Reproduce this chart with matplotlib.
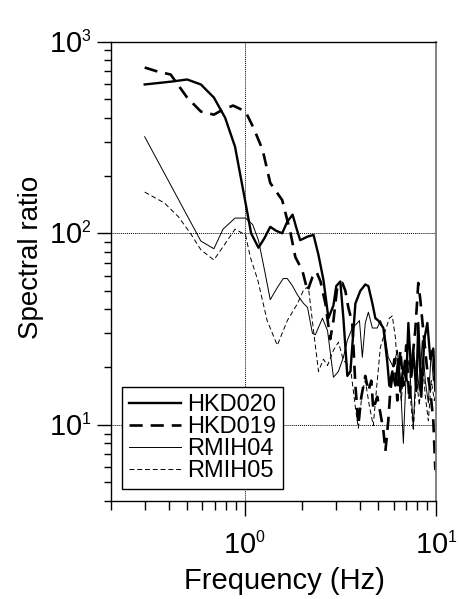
import matplotlib
matplotlib.use("Agg")
import matplotlib.pyplot as plt
from matplotlib.ticker import LogLocator, FixedLocator, FixedFormatter, NullFormatter

try:
    import matplotlib._mathtext as _mt
    _mt.SHRINK_FACTOR = 0.55
except Exception:
    pass

plt.rcParams['font.family'] = ['Liberation Sans', 'DejaVu Sans']
plt.rcParams['mathtext.fontset'] = 'custom'
plt.rcParams['mathtext.rm'] = 'Liberation Sans'
plt.rcParams['mathtext.it'] = 'Liberation Sans'

# ---------------- data ----------------
hkd020_f = [0.30, 0.42, 0.50, 0.59, 0.69, 0.79, 0.89, 1.01, 1.08, 1.18, 1.27, 1.36, 1.46,
            1.57, 1.67, 1.78, 1.86, 1.95, 2.13, 2.29, 2.43, 2.58, 2.74, 2.91, 3.01, 3.16,
            3.28, 3.44, 3.57, 3.79, 4.02, 4.27, 4.43, 4.65, 4.82, 4.99, 5.31, 5.57, 5.70,
            5.91, 6.13, 6.35, 6.51, 6.75, 6.99, 7.17, 7.43, 7.61, 7.89, 8.08, 8.38, 8.69,
            9.01, 9.34, 9.68, 9.92, 10.0]
hkd020_v = [598, 620, 635, 598, 511, 401, 283, 144, 100, 84, 94.5, 108, 103,
            100, 115, 125, 107, 92, 96, 98, 77, 57, 36, 42, 53, 56,
            36, 18, 19, 43, 50, 54, 53, 43, 36, 35, 32, 21, 16,
            19, 16, 22, 15, 20, 17, 34, 18, 24, 15, 34, 14, 28,
            34, 22, 25, 15, 17]

hkd019_f = [0.30, 0.35, 0.41, 0.50, 0.59, 0.69, 0.77, 0.87, 1.01, 1.11, 1.24, 1.36, 1.57,
            1.67, 1.73, 1.84, 2.00, 2.13, 2.26, 2.37, 2.49, 2.64, 2.80, 2.91, 3.05, 3.24,
            3.36, 3.48, 3.65, 3.79, 3.93, 4.07, 4.27, 4.43, 4.59, 4.70, 4.93, 5.12, 5.31,
            5.44, 5.63, 5.77, 6.06, 6.28, 6.51, 6.75, 6.99, 7.25, 7.52, 7.79, 8.08, 8.28,
            8.48, 8.79, 9.01, 9.34, 9.68, 9.92]
hkd019_v = [733, 699, 674, 511, 432, 416, 442, 464, 432, 356, 273, 183, 149,
            117, 102, 75, 64, 50, 59, 63, 56, 43, 28, 35, 53, 55,
            50, 41, 34, 16, 10, 14, 18, 15, 17, 12, 14, 11.5, 9.3,
            7.3, 10.5, 15, 22, 13.4, 24.5, 16, 26, 13.4, 22, 31, 55, 45,
            35, 24.5, 19, 15, 10.5, 5.8]

rmih04_f = [0.30, 0.59, 0.69, 0.77, 0.89, 1.01, 1.10, 1.18, 1.27, 1.36, 1.48, 1.59, 1.67,
            1.78, 1.89, 2.03, 2.13, 2.26, 2.34, 2.55, 2.71, 2.91, 3.09, 3.28, 3.44, 3.65,
            3.88, 3.98, 4.12, 4.27, 4.43, 4.65, 4.93, 5.12, 5.37, 5.63, 5.98, 6.28, 6.51,
            6.75, 6.99, 7.25, 7.43, 7.61, 7.89, 8.18, 8.48, 8.79, 9.12, 9.45, 9.68, 9.92]
rmih04_v = [319, 91, 83, 105, 120, 120, 111, 92, 64, 45, 52, 58, 58,
            53, 47.5, 43, 41, 30, 29.5, 36, 31, 17.7, 19, 22.5, 27.6, 32,
            34, 35, 22.5, 34, 38.7, 32, 32, 35, 31, 22.5, 20, 24.5, 17,
            8.0, 19, 21.7, 14.2, 9.7, 21.7, 15, 27.6, 17, 13, 24.5, 17, 19]

rmih05_f = [0.30, 0.38, 0.45, 0.52, 0.59, 0.69, 0.77, 0.89, 1.01, 1.07, 1.17, 1.31, 1.48,
            1.67, 1.89, 2.03, 2.15, 2.29, 2.43, 2.58, 2.71, 2.91, 3.09, 3.28, 3.57, 3.79,
            3.93, 4.12, 4.27, 4.48, 4.70, 4.93, 5.12, 5.44, 5.70, 5.91, 6.13, 6.35, 6.59,
            6.83, 7.08, 7.34, 7.61, 7.89, 8.18, 8.48, 8.79, 9.12, 9.45, 9.80, 10.0]
rmih05_v = [164, 144, 122, 100, 82, 72.5, 85, 105, 98, 75, 57, 35, 26,
            35, 43, 50.5, 52.7, 31, 19, 22, 20.4, 24.5, 27, 21.7, 20, 12.3,
            9.6, 15, 17, 12.6, 9.9, 17, 25.4, 31, 36, 37, 28.7, 17, 13.4,
            21.7, 17, 14.2, 9.3, 18, 12.6, 21.7, 14.2, 10.5, 17, 13.4, 15]

series_labels = ["HKD020", "HKD019", "RMIH04", "RMIH05"]
x_ticks = [1, 10]
x_ticklabels = [r"$\mathregular{10^{0}}$", r"$\mathregular{10^{1}}$"]
y_ticks = [10, 100, 1000]
y_ticklabels = [r"$\mathregular{10^{1}}$", r"$\mathregular{10^{2}}$", r"$\mathregular{10^{3}}$"]

# ---------------- figure ----------------
fig = plt.figure(figsize=(4.59, 5.99), dpi=100)
ax = fig.add_axes([111 / 459, 1 - 501 / 599, 325 / 459, 459.3 / 599])

ax.plot(hkd020_f, hkd020_v, color='black', lw=1.7, ls='-', label=series_labels[0])
ax.plot(hkd019_f, hkd019_v, color='black', lw=1.9, ls=(0, (5, 3)), label=series_labels[1])
ax.plot(rmih04_f, rmih04_v, color='black', lw=0.7, ls='-', label=series_labels[2])
ax.plot(rmih05_f, rmih05_v, color='black', lw=0.7, ls=(0, (5, 3)), label=series_labels[3])

ax.set_xscale('log')
ax.set_yscale('log')
ax.set_xlim(0.2, 10)
ax.set_ylim(4, 1000)

ax.xaxis.set_major_locator(FixedLocator(x_ticks))
ax.xaxis.set_major_formatter(FixedFormatter(x_ticklabels))
ax.yaxis.set_major_locator(FixedLocator(y_ticks))
ax.yaxis.set_major_formatter(FixedFormatter(y_ticklabels))
ax.xaxis.set_minor_locator(LogLocator(base=10, subs=range(2, 10), numticks=20))
ax.yaxis.set_minor_locator(LogLocator(base=10, subs=range(2, 10), numticks=20))
ax.xaxis.set_minor_formatter(NullFormatter())
ax.yaxis.set_minor_formatter(NullFormatter())

ax.tick_params(axis='x', which='major', direction='out', length=11, width=1.0,
               labelsize=21, pad=11, top=False)
ax.tick_params(axis='x', which='minor', direction='out', length=6.5, width=1.0, top=False)
ax.tick_params(axis='y', which='major', direction='out', length=10, width=1.0,
               labelsize=21, pad=4, right=False)
ax.tick_params(axis='y', which='minor', direction='out', length=5, width=1.0, right=False)

ax.grid(True, which='major', ls=(0, (1, 1)), color='black', lw=0.7)
for s in ['left', 'bottom', 'top']:
    ax.spines[s].set_linewidth(1.0)
    ax.spines[s].set_color('black')
ax.spines['right'].set_linewidth(1.3)
ax.spines['right'].set_color('#777777')

ax.set_xlabel("Frequency (Hz)", fontsize=21)
ax.set_ylabel("Spectral ratio", fontsize=20)
ax.xaxis.set_label_coords(0.535, -0.143)
ax.yaxis.set_label_coords(-0.205, 0.53)

leg = ax.legend(loc='lower left', bbox_to_anchor=(0.034, 0.026), fontsize=17,
                frameon=True, fancybox=False, borderaxespad=0, handlelength=2.2,
                handletextpad=0.25, labelspacing=0.0, borderpad=0.3)
leg.get_frame().set_edgecolor('black')
leg.get_frame().set_linewidth(1.0)
leg.get_frame().set_alpha(1)

fig.savefig("out.png", dpi=100)
